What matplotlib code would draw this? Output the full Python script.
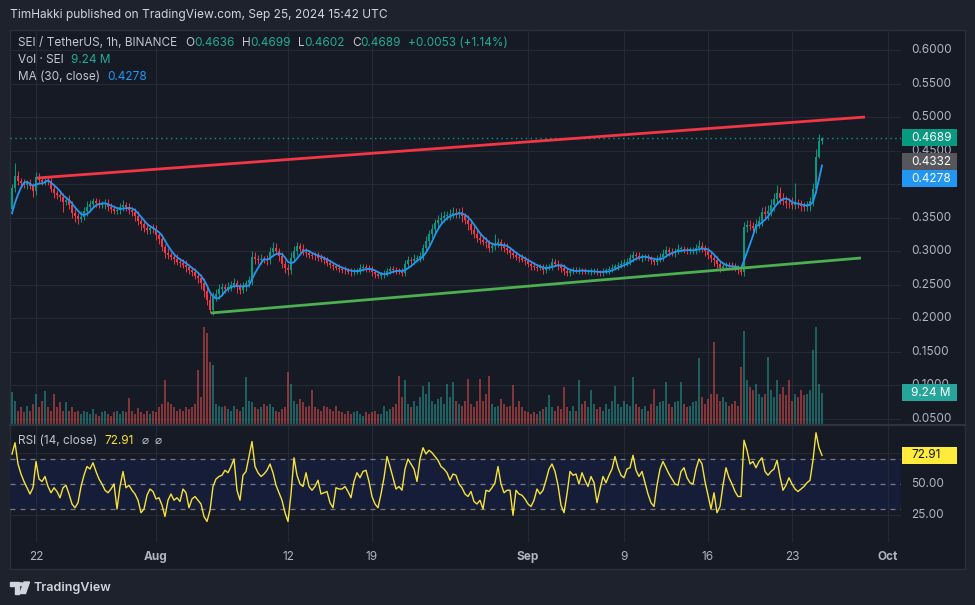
import numpy as np
import pandas as pd
import matplotlib
matplotlib.use("Agg")
import matplotlib.pyplot as plt
import matplotlib.dates as mdates
from matplotlib.patches import Rectangle, Polygon, Circle
from matplotlib.transforms import blended_transform_factory

plt.rcParams["font.family"] = ["Inter", "DejaVu Sans"]

# ---- data (SEI/USDT, 6h steps from Jul 20) ----
pre_closes = [0.335, 0.342, 0.350, 0.362]   # just left of the visible window, only feeds the MA

closes = [
    0.394, 0.412, 0.404, 0.401, 0.399, 0.401, 0.397, 0.389, 0.410, 0.406, 0.403, 0.405,
    0.404, 0.393, 0.386, 0.383, 0.381, 0.373, 0.376, 0.368, 0.357, 0.352, 0.348, 0.351,
    0.360, 0.366, 0.370, 0.374, 0.371, 0.369, 0.370, 0.372, 0.366, 0.362, 0.360, 0.361,
    0.365, 0.368, 0.366, 0.361, 0.358, 0.352, 0.345, 0.340, 0.335, 0.331, 0.334, 0.333,
    0.324, 0.318, 0.306, 0.297, 0.294, 0.291, 0.288, 0.284, 0.282, 0.279, 0.276, 0.271,
    0.268, 0.263, 0.260, 0.252, 0.240, 0.227, 0.212, 0.231, 0.236, 0.243, 0.246, 0.244,
    0.247, 0.250, 0.252, 0.246, 0.242, 0.247, 0.252, 0.256, 0.291, 0.288, 0.286, 0.288,
    0.287, 0.286, 0.298, 0.305, 0.300, 0.292, 0.281, 0.274, 0.272, 0.290, 0.300, 0.307,
    0.303, 0.299, 0.297, 0.294, 0.293, 0.292, 0.290, 0.288, 0.286, 0.282, 0.279, 0.277,
    0.275, 0.273, 0.272, 0.271, 0.269, 0.268, 0.270, 0.271, 0.274, 0.276, 0.274, 0.272,
    0.268, 0.265, 0.263, 0.265, 0.266, 0.270, 0.273, 0.271, 0.270, 0.269, 0.267, 0.280,
    0.286, 0.285, 0.288, 0.289, 0.292, 0.305, 0.315, 0.325, 0.333, 0.342, 0.347, 0.350,
    0.352, 0.354, 0.356, 0.357, 0.356, 0.358, 0.352, 0.347, 0.340, 0.332, 0.326, 0.320,
    0.316, 0.314, 0.312, 0.304, 0.308, 0.311, 0.313, 0.308, 0.305, 0.301, 0.297, 0.294,
    0.291, 0.289, 0.287, 0.285, 0.281, 0.278, 0.276, 0.275, 0.276, 0.272, 0.275, 0.276,
    0.283, 0.281, 0.278, 0.275, 0.270, 0.267, 0.270, 0.272, 0.271, 0.271, 0.270, 0.269,
    0.269, 0.270, 0.270, 0.268, 0.267, 0.269, 0.271, 0.273, 0.275, 0.277, 0.279, 0.281,
    0.282, 0.284, 0.289, 0.294, 0.292, 0.290, 0.291, 0.291, 0.289, 0.286, 0.284, 0.288,
    0.291, 0.296, 0.301, 0.299, 0.297, 0.300, 0.303, 0.303, 0.301, 0.300, 0.300, 0.301,
    0.305, 0.308, 0.304, 0.300, 0.294, 0.290, 0.286, 0.280, 0.275, 0.277, 0.279, 0.278,
    0.277, 0.275, 0.271, 0.269, 0.336, 0.339, 0.337, 0.334, 0.340, 0.345, 0.358, 0.356,
    0.360, 0.369, 0.378, 0.387, 0.379, 0.375, 0.372, 0.371, 0.369, 0.371, 0.370, 0.367,
    0.366, 0.367, 0.374, 0.392, 0.4405, 0.4636, 0.4689,
]

# wick lengths above / below the body, in thousandths
wick_up = [
    6, 19, 7, 5, 6, 5, 7, 5, 8, 6, 5, 7,
    6, 5, 7, 5, 5, 6, 5, 7, 6, 5, 5, 8,
    6, 8, 6, 5, 5, 7, 5, 5, 6, 5, 7, 5,
    6, 8, 5, 5, 5, 6, 7, 5, 6, 7, 5, 6,
    6, 5, 7, 5, 7, 5, 6, 7, 5, 6, 7, 5,
    5, 7, 6, 5, 7, 8, 9, 8, 7, 8, 6, 5,
    7, 5, 7, 5, 6, 7, 5, 7, 9, 8, 6, 7,
    5, 7, 8, 9, 7, 5, 7, 5, 6, 8, 7, 6,
    5, 7, 5, 5, 5, 5, 6, 5, 5, 5, 5, 5,
    4, 5, 4, 5, 4, 5, 5, 4, 6, 5, 4, 5,
    5, 4, 5, 4, 5, 5, 4, 5, 5, 4, 5, 7,
    6, 5, 7, 5, 7, 6, 8, 6, 7, 6, 7, 8,
    8, 6, 7, 8, 7, 6, 7, 5, 7, 6, 5, 7,
    5, 6, 7, 5, 6, 14, 7, 5, 5, 7, 5, 6,
    5, 5, 6, 5, 5, 4, 5, 4, 5, 4, 5, 5,
    6, 5, 5, 4, 5, 4, 5, 4, 4, 5, 4, 4,
    4, 4, 5, 4, 4, 5, 4, 5, 5, 4, 5, 6,
    6, 5, 7, 6, 5, 6, 5, 5, 5, 4, 5, 6,
    6, 7, 6, 5, 6, 5, 7, 5, 5, 5, 6, 5,
    6, 8, 5, 5, 6, 5, 5, 6, 5, 6, 5, 5,
    5, 5, 4, 5, 7, 8, 7, 6, 8, 7, 8, 9,
    8, 8, 9, 12, 9, 8, 7, 7, 10, 30, 7, 6,
    6, 7, 6, 9, 12, 11, 1.0,
]
wick_dn = [
    7, 6, 6, 5, 5, 7, 5, 8, 5, 6, 5, 5,
    6, 5, 7, 5, 6, 15, 5, 6, 7, 8, 7, 5,
    5, 7, 5, 6, 5, 5, 5, 7, 6, 5, 5, 5,
    5, 5, 7, 5, 5, 7, 6, 8, 7, 5, 5, 6,
    7, 8, 6, 7, 6, 5, 7, 5, 6, 5, 7, 5,
    6, 5, 7, 8, 9, 8, 5, 7, 6, 7, 8, 6,
    5, 7, 5, 8, 6, 5, 7, 5, 6, 7, 5, 6,
    5, 7, 5, 6, 5, 7, 6, 7, 8, 6, 5, 6,
    5, 5, 6, 5, 5, 5, 5, 5, 5, 5, 5, 5,
    4, 4, 5, 5, 4, 5, 4, 5, 5, 4, 5, 4,
    5, 6, 4, 5, 5, 4, 5, 4, 5, 4, 5, 4,
    5, 4, 5, 5, 5, 5, 7, 6, 6, 7, 6, 6,
    6, 5, 7, 6, 6, 7, 8, 6, 8, 7, 6, 7,
    6, 5, 7, 6, 6, 6, 5, 7, 6, 5, 7, 5,
    5, 5, 4, 6, 5, 6, 4, 5, 4, 6, 5, 4,
    5, 4, 6, 6, 6, 4, 5, 4, 4, 5, 4, 4,
    4, 5, 4, 4, 4, 5, 4, 5, 4, 4, 5, 4,
    5, 4, 5, 6, 5, 4, 6, 5, 4, 6, 5, 5,
    5, 6, 5, 6, 5, 6, 5, 5, 4, 5, 5, 4,
    5, 6, 6, 7, 6, 7, 8, 6, 7, 5, 5, 6,
    5, 5, 6, 5, 6, 7, 6, 8, 7, 6, 8, 7,
    9, 7, 9, 8, 9, 7, 8, 7, 7, 7, 6, 8,
    6, 6, 7, 7, 5, 2, 3.4,
]

# volume, millions of SEI
volumes = [
    9.5, 7, 4, 5, 3.5, 5.5, 4, 6, 9, 5, 7, 9.7,
    5, 4, 9, 5, 6.5, 4, 6.5, 4, 5, 3.5, 4, 3,
    4, 3.5, 3, 4.5, 3, 2.5, 3.5, 4, 3, 2.5, 3.5, 4,
    3, 4, 3.5, 7.7, 4, 3, 4.8, 3.5, 3, 4, 3, 4,
    3.5, 5, 6, 13, 6.5, 6, 5, 4, 4.5, 4, 5, 4.5,
    5, 6, 16, 8, 29, 27, 18.5, 17.5, 6, 5.5, 5, 5.5,
    4.5, 4, 5.5, 4.5, 4, 5, 14, 7, 6.5, 5, 4.5, 5,
    6, 5.5, 6, 5, 4, 3.5, 4.5, 5, 15.4, 12, 7, 6,
    7.5, 6.5, 5, 5.5, 10, 5, 4.5, 4, 5.5, 5, 4.5, 4,
    5.5, 4, 3.5, 3, 4, 3, 3.5, 4, 3, 2.5, 3.5, 3,
    3.5, 4, 3, 3, 5.5, 4, 4.5, 5, 6, 14.4, 8, 13,
    6, 5, 7, 5.5, 8, 11.4, 9, 12.4, 7, 6, 7.5, 8,
    6, 12, 8, 12.6, 7, 6, 5.5, 7, 13.4, 6, 5, 7,
    13.4, 7, 9, 14.4, 6, 5, 5.5, 7.5, 6, 5, 5.5, 11.6,
    5, 7, 5, 4, 3.5, 3, 3.5, 3, 4, 4.5, 5, 8.7,
    5, 4, 5.5, 4.5, 11, 5, 4, 5.5, 4, 13, 6, 7,
    5, 10, 6, 4.5, 5, 4, 6, 4.5, 7, 11.4, 6, 5,
    7, 6, 5.5, 14, 6, 5, 4.5, 5.5, 4, 6, 10.4, 5.5,
    6.5, 7, 12.4, 6, 5, 6.5, 7, 12.4, 6, 5, 5.5, 6.5,
    7, 19.6, 8, 6, 7.5, 9, 24.5, 9, 7, 8, 6.5, 5.5,
    6, 7, 5.5, 17, 27.8, 13, 11, 10, 12, 9, 8, 9,
    20, 10, 8, 13, 9, 11, 8.5, 13, 7, 9, 8, 10,
    8.5, 9, 10, 22, 29, 12, 9.24,
]

rsi = [
    74, 83, 66, 58, 52, 47, 42, 47, 68, 54, 52, 56,
    48, 43, 47, 44, 39, 47, 49, 42, 34, 31, 35, 48,
    57, 64, 62, 67, 60, 54, 50, 45, 43, 46, 50, 30,
    48, 60, 47, 49, 45, 42, 37, 27, 30, 41, 46, 44,
    38, 39, 33, 24, 37, 42, 37, 39, 36, 46, 43, 31,
    38, 40, 37, 34, 24, 20, 29, 48, 54, 56, 57, 61,
    59, 64, 70, 45, 37, 57, 60, 72, 84, 64, 59, 56,
    58, 61, 66, 59, 49, 43, 37, 27, 20, 42, 71, 57,
    50, 48, 59, 48, 45, 48, 53, 42, 43, 44, 35, 31,
    47, 46, 46, 48, 44, 39, 52, 59, 55, 60, 61, 52,
    40, 34, 31, 42, 55, 72, 64, 55, 46, 48, 45, 62,
    70, 66, 62, 52, 70, 79, 74, 77, 75, 72, 69, 64,
    62, 59, 53, 58, 57, 50, 47, 42, 40, 44, 36, 34,
    37, 30, 45, 44, 47, 51, 64, 50, 43, 45, 45, 25,
    45, 42, 41, 38, 34, 32, 37, 46, 42, 45, 53, 62,
    66, 60, 49, 33, 27, 42, 60, 57, 58, 50, 59, 53,
    48, 56, 51, 35, 46, 56, 51, 57, 62, 72, 63, 57,
    55, 62, 63, 73, 61, 56, 60, 51, 42, 35, 32, 49,
    62, 68, 63, 58, 54, 50, 49, 60, 63, 55, 51, 50,
    62, 70, 66, 52, 41, 30, 43, 27, 32, 49, 63, 55,
    50, 44, 40, 40, 85, 77, 66, 68, 63, 68, 71, 60,
    57, 60, 62, 69, 56, 45, 49, 55, 50, 46, 44, 46,
    48, 51, 53, 69, 91, 79, 72.91,
]

red_line_dates = ["2024-07-22 02:00", "2024-09-29 02:00"]
red_line_prices = [0.409, 0.500]
green_line_dates = ["2024-08-05 14:00", "2024-09-28 18:00"]
green_line_prices = [0.2075, 0.2896]
marker_price = 0.4332

price_ticks = [0.05, 0.10, 0.15, 0.20, 0.25, 0.30, 0.35, 0.40, 0.45, 0.50, 0.55, 0.60]
rsi_ticks = [25.00, 50.00]
tick_dates = ["2024-07-22", "2024-08-01", "2024-08-12", "2024-08-19", "2024-09-01",
              "2024-09-09", "2024-09-16", "2024-09-23", "2024-10-01"]
tick_labels = ["22", "Aug", "12", "19", "Sep", "9", "16", "23", "Oct"]

# ---- colours ----
BG_OUT = "#1e222d"
BG = "#161a25"
GRID = "#252934"
TXT = "#b2b5be"
LEG = "#c3c6ce"
UP = "#089981"
DOWN = "#f23645"
VAL = "#22ab94"
BLUE = "#2196f3"
YEL = "#f5e23b"
FS = 8.5

# ---- derived series ----
dates = pd.date_range("2024-07-20 00:00", periods=len(closes), freq="6h")
x = mdates.date2num(dates)
c = np.array(closes)
o = np.concatenate([[pre_closes[-1]], c[:-1]])
hi = np.maximum(o, c) + np.array(wick_up) / 1000
lo = np.minimum(o, c) - np.array(wick_dn) / 1000
is_up = c >= o
ma = pd.Series(pre_closes + closes).rolling(5).mean().to_numpy()[len(pre_closes):]

W, H = 975, 605
fig = plt.figure(figsize=(W / 100, H / 100), dpi=100, facecolor=BG_OUT)


def fx(px):
    return px / W


def fy(py):
    return 1 - py / H


def axx(px):
    # pixel column -> axes fraction of the chart panes (x 10..901)
    return (px - 10) / 891


fig.add_artist(Rectangle((fx(10), fy(569)), fx(965) - fx(10), fy(30) - fy(569),
                         transform=fig.transFigure, facecolor=BG, edgecolor="#2a2e39",
                         lw=1, zorder=-5))

ax = fig.add_axes([fx(10), fy(424), fx(901) - fx(10), fy(30) - fy(424)])
rax = fig.add_axes([fx(10), fy(542), fx(901) - fx(10), fy(424) - fy(542)], sharex=ax)
for a in (ax, rax):
    a.set_facecolor("none")
    for s in a.spines.values():
        s.set_visible(False)
    a.tick_params(length=0, labelbottom=False, labelleft=False)
    a.set_axisbelow(True)
    a.grid(True, color=GRID, lw=0.9)

ax.set_xticks(mdates.date2num(pd.to_datetime(tick_dates)))
ax.set_xlim(mdates.date2num(pd.Timestamp("2024-07-19 20:00")),
            mdates.date2num(pd.Timestamp("2024-10-02 02:00")))
ax.set_yticks(price_ticks)
rax.set_yticks([25, 75])

# --- volume (bottom overlay of the price pane) ---
VOL_TOP = 117.4
vtrans = blended_transform_factory(ax.transData, ax.transAxes)
vcol = np.where(is_up, "#26a69a", "#ef5350")
ax.bar(x, np.array(volumes) / VOL_TOP, width=0.19, bottom=0, color=vcol, alpha=0.5,
       lw=0, transform=vtrans, zorder=1)

# --- candles ---
ccol = np.where(is_up, UP, DOWN)
ax.vlines(x, lo, hi, colors=ccol, lw=0.7, zorder=3)
ax.bar(x, np.maximum(np.abs(c - o), 0.0008), bottom=np.minimum(o, c), width=0.2,
       color=ccol, lw=0, zorder=3)

ax.plot(x, ma, color=BLUE, lw=1.3, zorder=4)
ax.plot(mdates.date2num(pd.to_datetime(red_line_dates)), red_line_prices, color=DOWN,
        lw=2, zorder=5, solid_capstyle="butt")
ax.plot(mdates.date2num(pd.to_datetime(green_line_dates)), green_line_prices,
        color="#4caf50", lw=2, zorder=5, solid_capstyle="butt")
ax.axhline(c[-1], color=UP, lw=1, ls=(0, (1, 2.5)), zorder=2)
ax.set_ylim(0.0418, 0.6299)

# --- RSI pane ---
rax.axhspan(30, 70, color="#161d38", zorder=0.2, lw=0)
for lvl in (70, 50, 30):
    rax.axhline(lvl, color="#787b86", lw=0.9, ls=(0, (4, 4)), zorder=1)
rax.plot(x, rsi, color=YEL, lw=1.0, zorder=3)
rax.set_ylim(3.6, 98)

# separator between panes
fig.add_artist(plt.Line2D([fx(10), fx(965)], [fy(424.5), fy(424.5)], color="#2f333e",
                          lw=1.6, transform=fig.transFigure))


def to_px(a, y):
    # data value of pane `a` -> pixel row from the top of the picture
    return H - a.transData.transform((a.get_xlim()[0], y))[1]


def tag(y_px, text, bg, fg):
    fig.add_artist(Rectangle((fx(902), fy(y_px + 8.5)), fx(957) - fx(902), 17 / H,
                             transform=fig.transFigure, facecolor=bg, edgecolor="none",
                             zorder=10))
    fig.text(fx(911), fy(y_px), text, color=fg, fontsize=FS, va="center", ha="left",
             zorder=11)


last_px = to_px(ax, c[-1])
marker_px = to_px(ax, marker_price)
ma_px = max(to_px(ax, ma[-1]), marker_px + 17)   # stacked under the grey tag
vol_px = H - ax.transAxes.transform((0, volumes[-1] / VOL_TOP))[1]
tag_rows = [last_px, marker_px, ma_px, vol_px]

# --- right scale (labels sitting right under a tag are hidden, as on TradingView) ---
for p in price_ticks:
    if min(abs(to_px(ax, p) - t) for t in tag_rows) < 7:
        continue
    fig.text(fx(911), fy(to_px(ax, p)), f"{p:.4f}", color=TXT, fontsize=FS,
             va="center", ha="left")
for r in rsi_ticks:
    fig.text(fx(911), fy(to_px(rax, r)), f"{r:.2f}", color=TXT, fontsize=FS,
             va="center", ha="left")

tag(last_px, f"{c[-1]:.4f}", UP, "white")
tag(marker_px, f"{marker_price:.4f}", "#56575c", "white")
tag(ma_px, f"{ma[-1]:.4f}", BLUE, "white")
tag(vol_px, f"{volumes[-1]:.2f} M", "#26a69a", "white")
tag(to_px(rax, rsi[-1]), f"{rsi[-1]:.2f}", "#ffeb3b", "#131722")

# --- date axis ---
dtrans = blended_transform_factory(rax.transData, rax.transAxes)
for d, lab in zip(tick_dates, tick_labels):
    rax.text(mdates.date2num(pd.Timestamp(d)), -0.127, lab, transform=dtrans,
             color=TXT, fontsize=FS, ha="center", va="center",
             fontweight="bold" if lab.isalpha() else "normal", clip_on=False)

# --- legends ---
renderer = fig.canvas.get_renderer()


def write_parts(x_px, y_px, parts, size=8.5):
    for text, color, gap in parts:
        t = fig.text(fx(x_px), fy(y_px), text, color=color, fontsize=size,
                     va="center", ha="left")
        x_px += t.get_window_extent(renderer).width + gap


chg = c[-1] - o[-1]
write_parts(18, 43, [
    ("SEI / TetherUS, 1h, BINANCE", LEG, 8),
    ("O", LEG, 0), (f"{o[-1]:.4f}", VAL, 7),
    ("H", LEG, 0), (f"{hi[-1]:.4f}", VAL, 7),
    ("L", LEG, 0), (f"{lo[-1]:.4f}", VAL, 7),
    ("C", LEG, 0), (f"{c[-1]:.4f}", VAL, 7),
    (f"{chg:+.4f} ({chg / o[-1] * 100:+.2f}%)", VAL, 0),
])
write_parts(18, 60, [("Vol · SEI", LEG, 7), (f"{volumes[-1]:.2f} M", VAL, 0)])
write_parts(18, 77, [("MA (30, close)", LEG, 7), (f"{ma[-1]:.4f}", BLUE, 0)])
write_parts(18, 441, [("RSI (14, close)", LEG, 7), (f"{rsi[-1]:.2f}", YEL, 8),
                      ("⌀", LEG, 6), ("⌀", LEG, 0)])

fig.text(fx(10), fy(15), "TimHakki published on TradingView.com, Sep 25, 2024 15:42 UTC",
         color="#d1d4dc", fontsize=8.6, va="center", ha="left")

# --- footer logo ---
LOGO = "#d1d4dc"


def pxpoly(pts):
    return [(fx(a), fy(b)) for a, b in pts]


fig.add_artist(Polygon(pxpoly([(10, 582), (18.5, 582), (18.5, 593.5), (14.5, 593.5),
                               (14.5, 586), (10, 586)]), closed=True, color=LOGO,
                       transform=fig.transFigure))
fig.add_artist(Polygon(pxpoly([(24, 582), (29.5, 582), (25.5, 593.5), (20, 593.5)]),
                       closed=True, color=LOGO, transform=fig.transFigure))
fig.add_artist(Circle((fx(21.3), fy(584.2)), 2.1 / W, color=LOGO, transform=fig.transFigure))
fig.text(fx(33), fy(588), "TradingView", color=LOGO, fontsize=9.0, fontweight="semibold",
         va="center", ha="left")

fig.savefig("out.png", dpi=100, facecolor=BG_OUT)
